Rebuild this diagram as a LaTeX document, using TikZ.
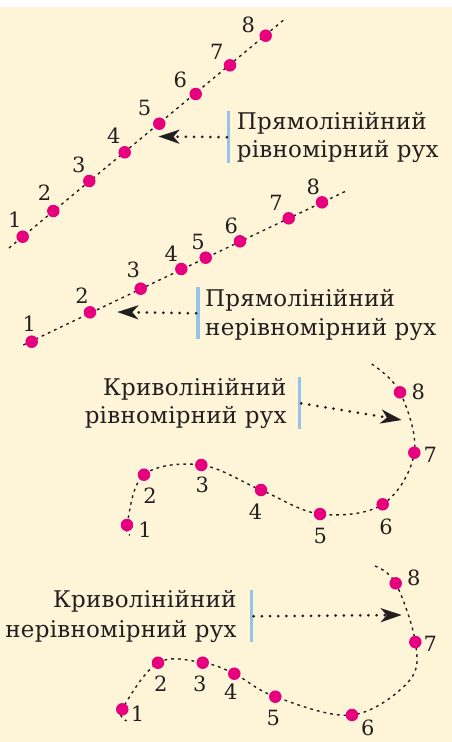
\documentclass[tikz,border=0pt]{standalone}
\usepackage{fontspec}
\setmainfont{DejaVu Serif}
\newfontfamily\lblfont[LetterSpace=1]{DejaVu Serif}
\usetikzlibrary{arrows.meta}
\definecolor{bgc}{RGB}{254,244,216}
\definecolor{dotc}{RGB}{230,0,126}
\definecolor{barc}{RGB}{150,196,232}
\definecolor{txt}{RGB}{35,31,32}
\begin{document}
\begin{tikzpicture}[x=1pt,y=-1pt,
  pt/.style={circle, fill=dotc, minimum size=12.5pt, inner sep=0pt},
  num/.style={font=\fontsize{21}{21}\selectfont, inner sep=0pt, text=txt},
  lbl/.style={font=\lblfont\fontsize{23}{23}\selectfont, inner sep=0pt, text=txt},
  trail/.style={line width=1.4pt, dash pattern=on 2.8pt off 4pt, txt},
  arr/.style={line width=3pt, line cap=round, dash pattern=on 0pt off 8.2pt, txt,
    -{Stealth[length=21pt,width=14pt,inset=6pt]}},
  bar/.style={rectangle, fill=barc, minimum width=3.4pt, minimum height=52pt, inner sep=0pt}]
\useasboundingbox (0,0) rectangle (452,742);
\fill[bgc] (0,7) rectangle (452,742);

% ---------- panel 1 ----------
\coordinate (a0) at (9,248);
\coordinate (a9) at (286,18);
\coordinate (a1) at (22.7,236.7);
\coordinate (a2) at (53.3,211);
\coordinate (a3) at (89.3,181);
\coordinate (a4) at (124.7,152.3);
\coordinate (a5) at (159.3,123.7);
\coordinate (a6) at (195.7,94);
\coordinate (a7) at (230,65.3);
\coordinate (a8) at (265.7,35.7);
\draw[trail] (a0) -- (a9);
\foreach \i in {1,...,8} \node[pt] (pa\i) at (a\i) {};
\node[num] (na1) at (14.7,220) {1};
\node[num] (na2) at (44.5,192.8) {2};
\node[num] (na3) at (78.8,164.7) {3};
\node[num] (na4) at (113.7,135.5) {4};
\node[num] (na5) at (144.5,108.3) {5};
\node[num] (na6) at (180.3,79.5) {6};
\node[num] (na7) at (216.7,51.7) {7};
\node[num] (na8) at (248.3,24.8) {8};
\node[bar] (ba) at (228.7,137.2) {};
\coordinate (ta) at (158.5,136.5);
\draw[arr] (ba.west) -- (ta);
\node[lbl, anchor=base west] (la1) at (236.7,129.8) {Прямолінійний};
\node[lbl, anchor=base west] (la2) at (236.7,157.6) {рівномірний рух};

% ---------- panel 2 ----------
\coordinate (b0) at (23.3,345);
\coordinate (b9) at (346.7,190.7);
\coordinate (b1) at (31.7,341.7);
\coordinate (b2) at (90,312.3);
\coordinate (b3) at (140.7,288.7);
\coordinate (b4) at (181.3,269);
\coordinate (b5) at (205.7,257.7);
\coordinate (b6) at (240,241.3);
\coordinate (b7) at (288.7,218.3);
\coordinate (b8) at (322,202.3);
\draw[trail] (b0) -- (b9);
\foreach \i in {1,...,8} \node[pt] (pb\i) at (b\i) {};
\node[num] (nb1) at (29.3,323.3) {1};
\node[num] (nb2) at (82,296) {2};
\node[num] (nb3) at (133.3,270) {3};
\node[num] (nb4) at (171.3,253.3) {4};
\node[num] (nb5) at (198,242.3) {5};
\node[num] (nb6) at (231.3,226) {6};
\node[num] (nb7) at (276,203.3) {7};
\node[num] (nb8) at (313.3,187.3) {8};
\node[bar] (bb) at (198,313.3) {};
\coordinate (tb) at (117.3,312);
\draw[arr] (bb.west) -- (tb);
\node[lbl, anchor=base west] (lb1) at (205,306.7) {Прямолінійний};
\node[lbl, anchor=base west] (lb2) at (205,335.7) {нерівномірний рух};

% ---------- panel 3 ----------
\coordinate (c0) at (371.7,364);
\coordinate (c8) at (400,392.3);
\coordinate (c7) at (414.3,452.7);
\coordinate (c6) at (382.7,504.3);
\coordinate (c5) at (320,514);
\coordinate (c4) at (261,490);
\coordinate (c3) at (201.3,465);
\coordinate (c2) at (144,474.7);
\coordinate (c1) at (127,525);
\coordinate (c9) at (130,535);
\draw[trail] plot[smooth, tension=0.6] coordinates {(c0) (c8) (c7) (c6) (c5) (c4) (c3) (c2) (c1) (c9)};
\foreach \i in {1,...,8} \node[pt] (pc\i) at (c\i) {};
\node[num] (nc1) at (145,529.7) {1};
\node[num] (nc2) at (150,495.3) {2};
\node[num] (nc3) at (202.3,485.3) {3};
\node[num] (nc4) at (255.5,511.2) {4};
\node[num] (nc5) at (320.3,536.2) {5};
\node[num] (nc6) at (386,526.7) {6};
\node[num] (nc7) at (430.3,454.7) {7};
\node[num] (nc8) at (418.3,392.2) {8};
\node[bar] (bc) at (299.3,403.3) {};
\coordinate (tc) at (401.7,420);
\draw[arr] (bc.east) -- (tc);
\node[lbl, anchor=base east] (lc1) at (286.7,395) {Криволінійний};
\node[lbl, anchor=base east] (lc2) at (286.7,423.5) {рівномірний рух};

% ---------- panel 4 ----------
\coordinate (d0) at (375,566);
\coordinate (d8) at (395.7,583.3);
\coordinate (d7) at (415.3,642);
\coordinate (dm) at (409,681);
\coordinate (d6) at (352,715);
\coordinate (d5) at (275.3,696.7);
\coordinate (d4) at (234.3,673.7);
\coordinate (d3) at (202.7,662.7);
\coordinate (d2) at (158,662.7);
\coordinate (d1) at (122.3,709.3);
\coordinate (d9) at (126.7,720.7);
\draw[trail] plot[smooth, tension=0.6] coordinates {(d0) (d8) (d7) (dm) (d6) (d5) (d4) (d3) (d2) (d1) (d9)};
\foreach \i in {1,...,8} \node[pt] (pd\i) at (d\i) {};
\node[num] (nd1) at (137.5,713.3) {1};
\node[num] (nd2) at (160.7,683.3) {2};
\node[num] (nd3) at (199.7,684.2) {3};
\node[num] (nd4) at (230.7,691.7) {4};
\node[num] (nd5) at (273.3,718.3) {5};
\node[num] (nd6) at (367.8,728.3) {6};
\node[num] (nd7) at (430.3,644.2) {7};
\node[num] (nd8) at (413.7,577.5) {8};
\node[bar] (bd) at (251.7,616.3) {};
\coordinate (td) at (401.7,615);
\draw[arr] (bd.east) -- (td);
\node[lbl, anchor=base east] (ld1) at (236.7,607.7) {Криволінійний};
\node[lbl, anchor=base east] (ld2) at (236.7,637.3) {нерівномірний рух};
\end{tikzpicture}
\end{document}
